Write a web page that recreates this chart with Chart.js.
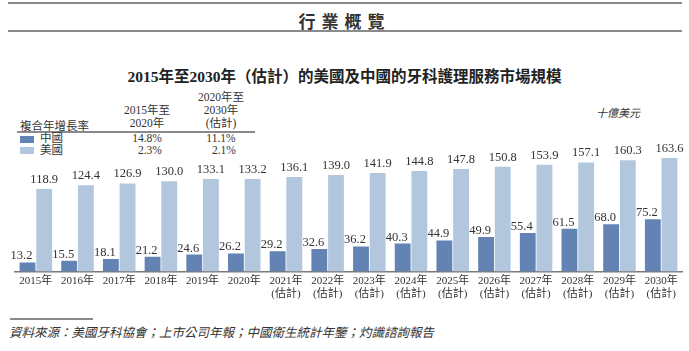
<!DOCTYPE html>
<html>
<head>
<meta charset="utf-8">
<script src="https://cdn.jsdelivr.net/npm/chart.js@4"></script>
<style>
  body { margin: 0; width: 689px; height: 351px; background: #fff; position: relative; overflow: hidden;
         font-family: "Liberation Serif", "Noto Sans CJK TC", serif; color: #333; }
  .abs { position: absolute; white-space: nowrap; }
  .rule { position: absolute; background: #8a8a8a; }
  .c { text-align: center; line-height: 13px; font-size: 11.5px; }
  #wrap { position: absolute; left: 0; top: 130px; width: 689px; height: 180px; }
</style>
</head>
<body>
<div class="rule" style="left:8px;top:2px;width:674px;height:2px;"></div>
<div class="abs" style="left:0;top:8px;width:689px;text-align:center;font-size:17px;font-weight:bold;letter-spacing:6px;color:#333;">行業概覽</div>
<div class="rule" style="left:8px;top:30px;width:674px;height:2px;"></div>
<div class="abs" style="left:0;top:64px;width:689px;text-align:center;font-size:15.5px;font-weight:bold;color:#222;">2015年至2030年（估計）的美國及中國的牙科護理服務市場規模</div>

<div class="abs c" style="left:112px;top:104px;width:70px;">2015年至<br>2020年</div>
<div class="abs c" style="left:186px;top:91px;width:70px;">2020年至<br>2030年<br>(估計)</div>
<div class="abs" style="left:20px;top:117px;font-size:11.5px;">複合年增長率</div>
<div class="rule" style="left:17px;top:131px;width:238px;height:1.5px;"></div>
<div class="abs" style="left:20px;top:136px;width:14px;height:7px;background:#6383b5;"></div>
<div class="abs" style="left:20px;top:147px;width:14px;height:7px;background:#b2c7de;"></div>
<div class="abs" style="left:40px;top:133px;font-size:11.5px;line-height:11.5px;">中國<br>美國</div>
<div class="abs c" style="left:112px;top:133px;width:70px;line-height:11.5px;">14.8%<br>&nbsp;&nbsp;2.3%</div>
<div class="abs c" style="left:186px;top:133px;width:70px;line-height:11.5px;">11.1%<br>&nbsp;&nbsp;2.1%</div>
<div class="abs" style="left:596px;top:104px;font-size:11px;font-style:italic;">十億美元</div>

<div id="wrap"><canvas id="grafico"></canvas></div>

<div class="rule" style="left:10px;top:318px;width:83px;height:2px;"></div>
<div class="abs" style="left:9px;top:322px;font-size:12.5px;font-style:italic;color:#333;">資料來源：美國牙科協會；上市公司年報；中國衛生統計年鑒；灼識諮詢報告</div>

<script>
const anos = ["2015年", "2016年", "2017年", "2018年", "2019年", "2020年",
  ["2021年", "(估計)"], ["2022年", "(估計)"], ["2023年", "(估計)"], ["2024年", "(估計)"],
  ["2025年", "(估計)"], ["2026年", "(估計)"], ["2027年", "(估計)"], ["2028年", "(估計)"],
  ["2029年", "(估計)"], ["2030年", "(估計)"]];
const china = [13.2, 15.5, 18.1, 21.2, 24.6, 26.2, 29.2, 32.6, 36.2, 40.3, 44.9, 49.9, 55.4, 61.5, 68.0, 75.2];
const eua = [118.9, 124.4, 126.9, 130.0, 133.1, 133.2, 136.1, 139.0, 141.9, 144.8, 147.8, 150.8, 153.9, 157.1, 160.3, 163.6];

const fonte = '"Liberation Serif", "Noto Sans CJK TC", serif';

// rótulos de valor em cima das barras
const rotulos = {
  id: "rotulos",
  afterDatasetsDraw(chart) {
    const ctx = chart.ctx;
    ctx.save();
    ctx.font = "12.5px " + fonte;
    ctx.fillStyle = "#333";
    ctx.textAlign = "center";
    ctx.textBaseline = "bottom";
    chart.data.datasets.forEach((ds, i) => {
      const meta = chart.getDatasetMeta(i);
      meta.data.forEach((bar, j) => {
        const dx = i === 0 ? -6 : 0;
        const dy = i === 0 ? 0 : 3;
        ctx.fillText(ds.data[j].toFixed(1), bar.x + dx, bar.y - dy);
      });
    });
    ctx.restore();
  }
};

new Chart(document.getElementById("grafico").getContext("2d"), {
  type: "bar",
  data: {
    labels: anos,
    datasets: [{
      label: "中國",
      data: china,
      backgroundColor: "#6383b5",
      categoryPercentage: 0.8,
      barPercentage: 0.95
    }, {
      label: "美國",
      data: eua,
      backgroundColor: "#b2c7de",
      categoryPercentage: 0.8,
      barPercentage: 0.95
    }]
  },
  options: {
    responsive: true,
    maintainAspectRatio: false,
    animation: false,
    layout: { padding: { left: 15, right: 7, top: 20, bottom: 6 } },
    plugins: {
      legend: { display: false },
      tooltip: { enabled: false }
    },
    scales: {
      x: {
        grid: { display: false, drawTicks: false },
        border: { display: true, color: "#7a7a7a", width: 1.5 },
        ticks: {
          color: "#333",
          padding: 3,
          maxRotation: 0,
          autoSkip: false,
          font: { family: fonte, size: 11, lineHeight: 1.2 }
        }
      },
      y: {
        display: false,
        min: 0,
        max: 175
      }
    }
  },
  plugins: [rotulos]
});
</script>
</body>
</html>
